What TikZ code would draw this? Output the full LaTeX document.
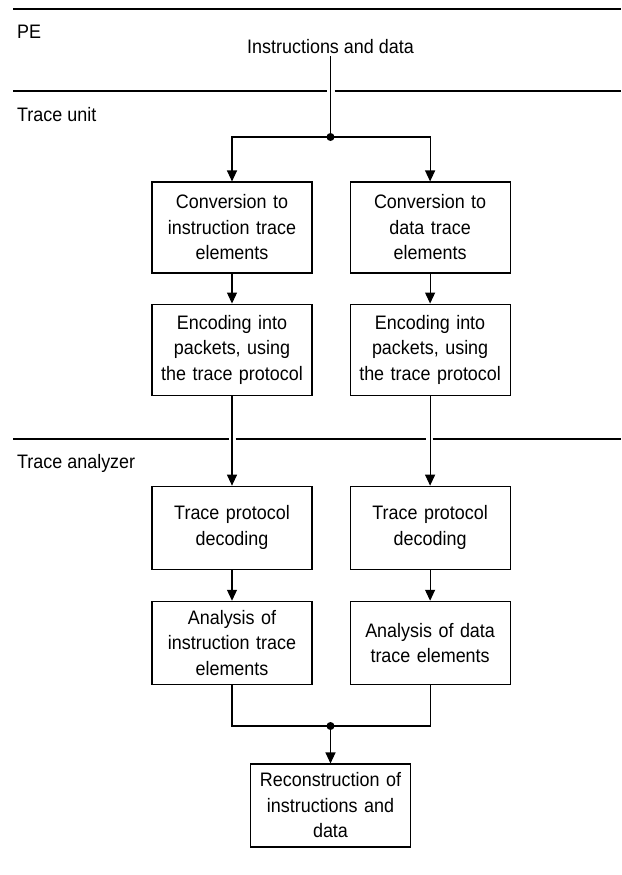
\documentclass[tikz,border=0pt]{standalone}
\usepackage{fontspec}
\setmainfont[FakeStretch=0.92]{Liberation Sans}
\usetikzlibrary{arrows.meta,positioning}

\begin{document}
\begin{tikzpicture}[x=1pt,y=-1pt]
          \tikzstyle{block}=[rectangle,draw=black,line width=1.1pt,minimum width=160pt,minimum height=91pt,text width=152pt,align=center,inner sep=0pt,font=\fontsize{19.5}{25.5}\selectfont]
          \tikzstyle{lane}=[line width=1.1pt]
          \tikzstyle{lanename}=[anchor=base west,inner sep=0pt,font=\fontsize{19.5}{25.5}\selectfont]
          \tikzstyle{wire}=[line width=1.1pt]
          \tikzstyle{flow}=[wire,-{Triangle[length=11pt,width=10pt]}]

          \useasboundingbox (0,0) rectangle (621,875);

          \begin{scope}
            \draw[lane] (13,9) -- (621,9);
            \draw[lane] (13,91) -- (326.5,91) (334.5,91) -- (621,91);
            \draw[lane] (13,439) -- (228.5,439) (235.5,439) -- (425.5,439) (432.5,439) -- (621,439);

            \node[lanename](pe) at (17,38){PE};
            \node[lanename](unit) at (17,121){Trace unit};
            \node[lanename](analyzer) at (17,468){Trace analyzer};
          \end{scope}

          \begin{scope}
            \node[anchor=base,inner sep=3pt,font=\fontsize{19.5}{25.5}\selectfont](src) at (330.5,53){Instructions and data};
            \coordinate (split) at (330.5,137);

            \node[block](conv1) at (232,227.5){Conversion to\\instruction trace\\elements};
            \node[block](conv2)[right=37pt of conv1]{Conversion to\\data trace\\elements};
            \node[block](enc1)[below=30pt of conv1]{Encoding into\\packets, using\\the trace protocol};
            \node[block](enc2)[below=30pt of conv2]{Encoding into\\packets, using\\the trace protocol};
            \node[block,minimum height=83pt](dec1)[below=90pt of enc1]{Trace protocol\\decoding};
            \node[block,minimum height=83pt](dec2)[below=90pt of enc2]{Trace protocol\\decoding};
            \node[block,minimum height=83pt](ana1)[below=31pt of dec1]{Analysis of\\instruction trace\\elements};
            \node[block,minimum height=83pt](ana2)[below=31pt of dec2]{Analysis of data\\trace elements};

            \coordinate (merge) at (330.5,726);
            \node[block,minimum height=83pt](rec) at (330.5,805.5){Reconstruction of\\instructions and\\data};

            \draw[wire] (src.south) -- (split);
            \draw[flow] (split) -| (conv1.north);
            \draw[flow] (split) -| (conv2.north);
            \fill (split) circle (4pt);

            \path[flow]
            (conv1) edge (enc1)
            (conv2) edge (enc2)
            (enc1) edge (dec1)
            (enc2) edge (dec2)
            (dec1) edge (ana1)
            (dec2) edge (ana2);

            \draw[wire] (ana1.south) |- (merge) -| (ana2.south);
            \draw[flow] (merge) -- (rec.north);
            \fill (merge) circle (4pt);
          \end{scope}
        \end{tikzpicture}
\end{document}
